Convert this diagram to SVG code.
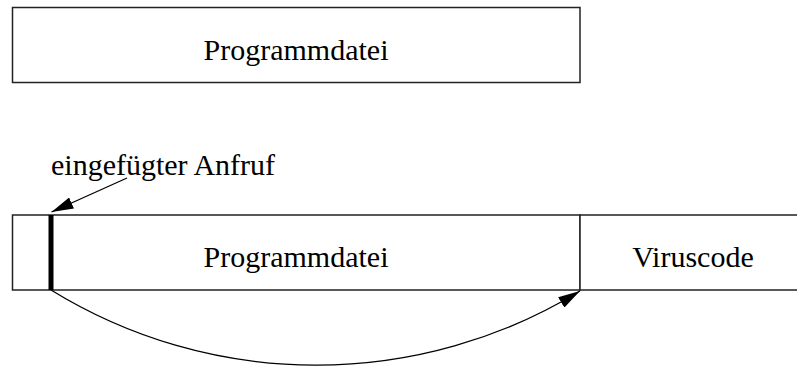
<svg xmlns="http://www.w3.org/2000/svg" width="797" height="367" viewBox="0 0 797 367">
<style>
.box{fill:#fff;stroke:#222;stroke-width:1.5}
.t{font-family:"Liberation Serif","Times New Roman",serif;font-size:30px;fill:#000}
.c{fill:none;stroke:#000;stroke-width:1.3}
</style>
<defs>
<marker id="ah" viewBox="0 0 22 12" refX="22" refY="6" markerWidth="22" markerHeight="12" markerUnits="userSpaceOnUse" orient="auto">
<path d="M0,0 L22,6 L0,12 Z" fill="#000"/>
</marker>
</defs>
<g id="top">
<rect class="box" x="12.5" y="7.5" width="567.5" height="75"/>
<text class="t" x="296" y="60" text-anchor="middle">Programmdatei</text>
</g>
<g id="prog">
<rect class="box" x="12.5" y="215" width="567.5" height="75"/>
<text class="t" x="296" y="267" text-anchor="middle">Programmdatei</text>
</g>
<g id="virus">
<rect class="box" x="580" y="215" width="230" height="75"/>
<text class="t" x="693" y="267" text-anchor="middle">Viruscode</text>
</g>
<g id="call">
<rect x="48.5" y="215" width="5" height="75" fill="#000"/>
</g>
<g id="label">
<text class="t" x="51" y="175">eingefügter Anfruf</text>
</g>
<g id="connectors">
<path class="c" d="M127,178 L51.5,212" marker-end="url(#ah)"/>
<path class="c" d="M51,290 A505.7,505.7 0 0 0 580,291" marker-end="url(#ah)"/>
</g>
</svg>
